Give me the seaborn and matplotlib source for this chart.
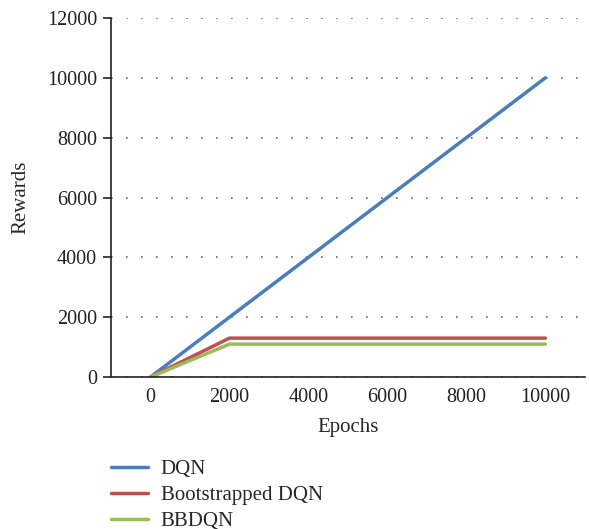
import numpy as np
import pandas as pd
import matplotlib.pyplot as plt
import seaborn as sns

epochs = [0, 2000, 4000, 6000, 8000, 10000]
dqn = [0, 2000, 4000, 6000, 8000, 10000]
bootstrapped_dqn = [0, 1300, 1300, 1300, 1300, 1300]
bbdqn = [0, 1100, 1100, 1100, 1100, 1100]
series_names = ["DQN", "Bootstrapped DQN", "BBDQN"]
colors = ["#4a7ebb", "#c0504d", "#9bbb59"]
x_ticks = [0, 2000, 4000, 6000, 8000, 10000]
y_ticks = [0, 2000, 4000, 6000, 8000, 10000, 12000]

df = pd.DataFrame({
    "Epochs": epochs * 3,
    "Rewards": dqn + bootstrapped_dqn + bbdqn,
    "Method": sum([[n] * len(epochs) for n in series_names], []),
})

sns.set_style("white")
plt.rcParams["font.family"] = ["Liberation Serif", "DejaVu Serif"]

fig = plt.figure(figsize=(5.89, 5.29), dpi=100)
ax = fig.add_axes([0.1885, 0.2873, 0.8045, 0.6787])

sns.lineplot(data=df, x="Epochs", y="Rewards", hue="Method",
             hue_order=series_names, palette=colors, linewidth=2.5,
             ax=ax, legend=False)

ax.set_xlim(-1000, 11000)
ax.set_ylim(0, 12000)
ax.set_xticks(x_ticks)
ax.set_yticks(y_ticks)
ax.tick_params(axis="both", labelsize=14.5, colors="#222222")
ax.tick_params(axis="y", direction="out", length=6, width=1.2, left=True, pad=4)
ax.tick_params(axis="x", length=0, pad=8)
ax.yaxis.grid(True, linestyle=(0, (1, 8)), color="#666666", linewidth=1.2)
ax.set_axisbelow(True)
for side in ["top", "right"]:
    ax.spines[side].set_visible(False)
for side in ["left", "bottom"]:
    ax.spines[side].set_color("#222222")
    ax.spines[side].set_linewidth(1.2)

ax.set_xlabel("Epochs", fontsize=15, labelpad=8)
ax.set_ylabel("Rewards", fontsize=15, labelpad=12)

handles = [plt.Line2D([], [], color=c, linewidth=2.5) for c in colors]
fig.legend(handles, series_names, loc="upper left",
           bbox_to_anchor=(0.174, 0.147), frameon=False, fontsize=15,
           handlelength=1.8, handletextpad=0.6, labelspacing=0.3,
           borderaxespad=0)

fig.savefig("out.png", dpi=100)
